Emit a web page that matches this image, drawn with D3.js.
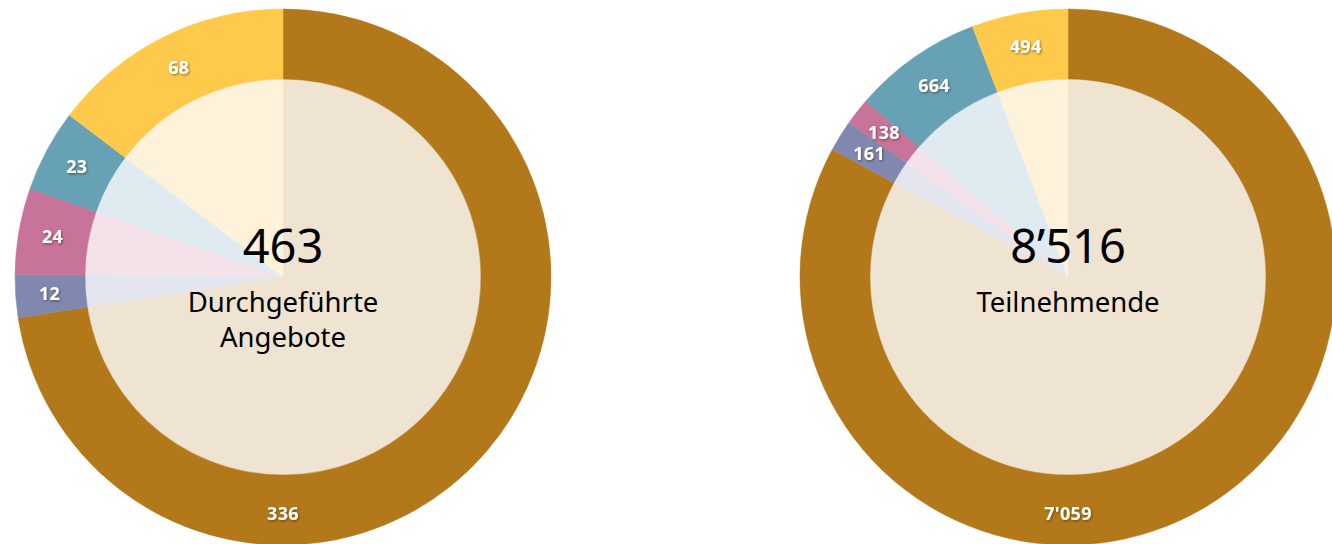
<!DOCTYPE html>
<html>
<head>
<meta charset="utf-8">
<script src="https://cdn.jsdelivr.net/npm/d3@7/dist/d3.min.js"></script>
<style>
  html, body { margin: 0; padding: 0; background: #fff; }
  svg text { font-family: "Noto Sans", "Open Sans", sans-serif; }
</style>
</head>
<body>
<div id="chart"></div>
<script>
  // categories in drawing order, clockwise from 12 o'clock
  var categories = ["a", "b", "c", "d", "e"];

  var angeboteValues = [336, 12, 24, 23, 68];
  var angeboteLabels = ["336", "12", "24", "23", "68"];

  var teilnehmendeValues = [7059, 161, 138, 664, 494];
  var teilnehmendeLabels = ["7'059", "161", "138", "664", "494"];

  var ringColours = ["#b27819", "#8088b0", "#c87399", "#66a1b6", "#ffc94c"];
  var tintColours = ["#efe3d1", "#e4e6ef", "#f3e2ea", "#dfebf0", "#fff2db"];

  var charts = [
    { cx: 283, values: angeboteValues, labels: angeboteLabels, total: "463", title: ["Durchgeführte", "Angebote"] },
    { cx: 1068, values: teilnehmendeValues, labels: teilnehmendeLabels, total: "8\u2019516", title: ["Teilnehmende"] }
  ];

  var width = 1332, height = 544;
  var cy = 277;
  var outerR = 268, innerR = 198;
  var labelR = 234;

  var svg = d3.select("#chart").append("svg")
    .attr("width", width)
    .attr("height", height);

  var defs = svg.append("defs");
  defs.append("filter")
    .attr("id", "shadow")
    .attr("x", "-20%").attr("y", "-20%")
    .attr("width", "140%").attr("height", "140%")
    .append("feDropShadow")
    .attr("dx", 1).attr("dy", 1.2)
    .attr("stdDeviation", 0.8)
    .attr("flood-color", "#3a2a00")
    .attr("flood-opacity", 0.55);

  var colour = d3.scaleOrdinal().domain(categories).range(ringColours);
  var tint = d3.scaleOrdinal().domain(categories).range(tintColours);

  var pie = d3.pie().sort(null).value(function(d) { return d.value; });

  var ringArc = d3.arc().innerRadius(innerR).outerRadius(outerR);
  var tintArc = d3.arc().innerRadius(0).outerRadius(innerR);
  var labelArc = d3.arc().innerRadius(labelR).outerRadius(labelR);

  charts.forEach(function(c) {
    var data = c.values.map(function(v, i) {
      return { key: categories[i], value: v, label: c.labels[i] };
    });
    var arcs = pie(data);

    var g = svg.append("g")
      .attr("transform", "translate(" + c.cx + "," + cy + ")");

    g.selectAll(".tint").data(arcs).enter()
      .append("path")
      .attr("class", "tint")
      .attr("d", tintArc)
      .attr("fill", function(d) { return tint(d.data.key); })
      .attr("stroke", function(d) { return tint(d.data.key); })
      .attr("stroke-width", 0.5);

    g.selectAll(".ring").data(arcs).enter()
      .append("path")
      .attr("class", "ring")
      .attr("d", ringArc)
      .attr("fill", function(d) { return colour(d.data.key); })
      .attr("stroke", function(d) { return colour(d.data.key); })
      .attr("stroke-width", 0.5);

    // slice labels; the big slice gets its label at the bottom
    g.selectAll(".slice-label").data(arcs).enter()
      .append("text")
      .attr("class", "slice-label")
      .attr("transform", function(d, i) {
        if (i === 0) return "translate(0," + (labelR + 3) + ")";
        return "translate(" + labelArc.centroid(d) + ")";
      })
      .attr("text-anchor", "middle")
      .attr("dy", "0.36em")
      .attr("fill", "#fff")
      .attr("font-weight", "bold")
      .attr("font-size", 18)
      .attr("letter-spacing", 0.3)
      .attr("filter", "url(#shadow)")
      .text(function(d) { return d.data.label; });

    g.append("text")
      .attr("class", "total")
      .attr("text-anchor", "middle")
      .attr("y", -14)
      .attr("font-size", 47)
      .attr("fill", "#000")
      .text(c.total);

    g.selectAll(".title").data(c.title).enter()
      .append("text")
      .attr("class", "title")
      .attr("text-anchor", "middle")
      .attr("y", function(d, i) { return 35 + i * 35; })
      .attr("font-size", 27.5)
      .attr("fill", "#000")
      .text(function(d) { return d; });
  });
</script>
</body>
</html>
